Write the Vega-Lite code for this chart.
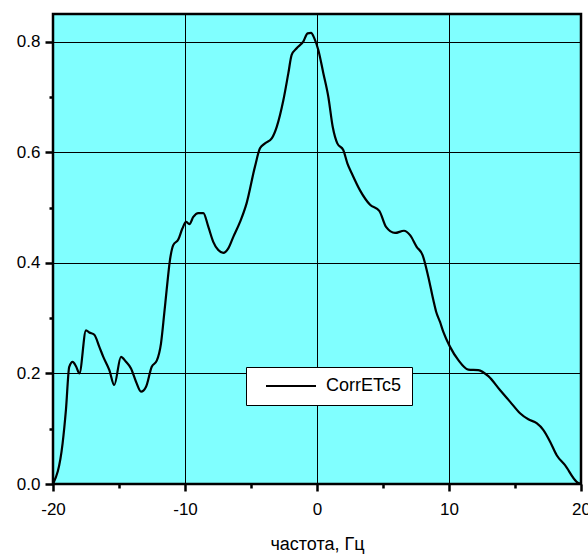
{
  "$schema": "https://vega.github.io/schema/vega-lite/v6.json",
  "width": 528,
  "height": 470,
  "autosize": {"type": "none"},
  "padding": {"left": 53, "top": 14, "right": 7, "bottom": 70},
  "background": "white",
  "config": {
    "view": {"fill": "#80FFFF", "stroke": "black", "strokeWidth": 2.5},
    "font": "Liberation Sans",
    "axis": {
      "domain": false,
      "ticks": true,
      "labelFont": "Liberation Sans",
      "labelFontSize": 17,
      "labelColor": "black",
      "titleFont": "Liberation Sans",
      "titleFontSize": 18,
      "titleFontWeight": "normal",
      "titleColor": "black",
      "tickColor": "black",
      "tickWidth": 2.5,
      "gridColor": "black",
      "gridWidth": 1
    },
    "legend": {
      "orient": "none",
      "legendX": 193,
      "legendY": 353,
      "fillColor": "white",
      "strokeColor": "black",
      "padding": 10,
      "labelFont": "Liberation Sans",
      "labelFontSize": 18,
      "labelColor": "black"
    }
  },
  "data": {
    "values": [
      {"f": -20, "v": 0.0, "s": "CorrETc5"},
      {"f": -19.27, "v": 0.074, "s": "CorrETc5"},
      {"f": -19.02, "v": 0.134, "s": "CorrETc5"},
      {"f": -18.77, "v": 0.212, "s": "CorrETc5"},
      {"f": -18.51, "v": 0.221, "s": "CorrETc5"},
      {"f": -18.26, "v": 0.213, "s": "CorrETc5"},
      {"f": -18.0, "v": 0.2, "s": "CorrETc5"},
      {"f": -17.5, "v": 0.278, "s": "CorrETc5"},
      {"f": -17.25, "v": 0.274, "s": "CorrETc5"},
      {"f": -16.87, "v": 0.27, "s": "CorrETc5"},
      {"f": -16.49, "v": 0.248, "s": "CorrETc5"},
      {"f": -16.19, "v": 0.23, "s": "CorrETc5"},
      {"f": -15.73, "v": 0.206, "s": "CorrETc5"},
      {"f": -15.36, "v": 0.179, "s": "CorrETc5"},
      {"f": -14.85, "v": 0.23, "s": "CorrETc5"},
      {"f": -14.47, "v": 0.221, "s": "CorrETc5"},
      {"f": -14.09, "v": 0.209, "s": "CorrETc5"},
      {"f": -13.71, "v": 0.185, "s": "CorrETc5"},
      {"f": -13.33, "v": 0.167, "s": "CorrETc5"},
      {"f": -12.95, "v": 0.176, "s": "CorrETc5"},
      {"f": -12.52, "v": 0.212, "s": "CorrETc5"},
      {"f": -12.14, "v": 0.223, "s": "CorrETc5"},
      {"f": -11.82, "v": 0.254, "s": "CorrETc5"},
      {"f": -11.57, "v": 0.309, "s": "CorrETc5"},
      {"f": -11.39, "v": 0.351, "s": "CorrETc5"},
      {"f": -11.14, "v": 0.405, "s": "CorrETc5"},
      {"f": -10.89, "v": 0.432, "s": "CorrETc5"},
      {"f": -10.51, "v": 0.442, "s": "CorrETc5"},
      {"f": -10.2, "v": 0.462, "s": "CorrETc5"},
      {"f": -9.92, "v": 0.474, "s": "CorrETc5"},
      {"f": -9.67, "v": 0.47, "s": "CorrETc5"},
      {"f": -9.37, "v": 0.483, "s": "CorrETc5"},
      {"f": -8.99, "v": 0.49, "s": "CorrETc5"},
      {"f": -8.61, "v": 0.49, "s": "CorrETc5"},
      {"f": -8.23, "v": 0.465, "s": "CorrETc5"},
      {"f": -7.86, "v": 0.438, "s": "CorrETc5"},
      {"f": -7.48, "v": 0.423, "s": "CorrETc5"},
      {"f": -7.1, "v": 0.418, "s": "CorrETc5"},
      {"f": -6.72, "v": 0.426, "s": "CorrETc5"},
      {"f": -6.34, "v": 0.447, "s": "CorrETc5"},
      {"f": -5.83, "v": 0.474, "s": "CorrETc5"},
      {"f": -5.33, "v": 0.508, "s": "CorrETc5"},
      {"f": -4.7, "v": 0.574, "s": "CorrETc5"},
      {"f": -4.32, "v": 0.607, "s": "CorrETc5"},
      {"f": -3.94, "v": 0.616, "s": "CorrETc5"},
      {"f": -3.43, "v": 0.625, "s": "CorrETc5"},
      {"f": -3.05, "v": 0.646, "s": "CorrETc5"},
      {"f": -2.55, "v": 0.694, "s": "CorrETc5"},
      {"f": -2.17, "v": 0.743, "s": "CorrETc5"},
      {"f": -1.92, "v": 0.776, "s": "CorrETc5"},
      {"f": -1.54, "v": 0.788, "s": "CorrETc5"},
      {"f": -1.04, "v": 0.8, "s": "CorrETc5"},
      {"f": -0.71, "v": 0.815, "s": "CorrETc5"},
      {"f": -0.45, "v": 0.816, "s": "CorrETc5"},
      {"f": -0.2, "v": 0.806, "s": "CorrETc5"},
      {"f": 0.1, "v": 0.785, "s": "CorrETc5"},
      {"f": 0.48, "v": 0.743, "s": "CorrETc5"},
      {"f": 0.86, "v": 0.7, "s": "CorrETc5"},
      {"f": 1.19, "v": 0.646, "s": "CorrETc5"},
      {"f": 1.54, "v": 0.616, "s": "CorrETc5"},
      {"f": 1.99, "v": 0.604, "s": "CorrETc5"},
      {"f": 2.3, "v": 0.58, "s": "CorrETc5"},
      {"f": 2.63, "v": 0.562, "s": "CorrETc5"},
      {"f": 3.26, "v": 0.531, "s": "CorrETc5"},
      {"f": 4.02, "v": 0.505, "s": "CorrETc5"},
      {"f": 4.72, "v": 0.494, "s": "CorrETc5"},
      {"f": 5.23, "v": 0.465, "s": "CorrETc5"},
      {"f": 5.91, "v": 0.454, "s": "CorrETc5"},
      {"f": 6.59, "v": 0.458, "s": "CorrETc5"},
      {"f": 7.05, "v": 0.45, "s": "CorrETc5"},
      {"f": 7.55, "v": 0.429, "s": "CorrETc5"},
      {"f": 8.0, "v": 0.414, "s": "CorrETc5"},
      {"f": 8.43, "v": 0.375, "s": "CorrETc5"},
      {"f": 8.81, "v": 0.333, "s": "CorrETc5"},
      {"f": 9.02, "v": 0.312, "s": "CorrETc5"},
      {"f": 9.32, "v": 0.293, "s": "CorrETc5"},
      {"f": 9.57, "v": 0.275, "s": "CorrETc5"},
      {"f": 10.08, "v": 0.248, "s": "CorrETc5"},
      {"f": 10.71, "v": 0.224, "s": "CorrETc5"},
      {"f": 11.46, "v": 0.207, "s": "CorrETc5"},
      {"f": 12.22, "v": 0.206, "s": "CorrETc5"},
      {"f": 12.98, "v": 0.195, "s": "CorrETc5"},
      {"f": 13.86, "v": 0.17, "s": "CorrETc5"},
      {"f": 14.62, "v": 0.149, "s": "CorrETc5"},
      {"f": 15.38, "v": 0.128, "s": "CorrETc5"},
      {"f": 16.01, "v": 0.117, "s": "CorrETc5"},
      {"f": 16.64, "v": 0.11, "s": "CorrETc5"},
      {"f": 17.14, "v": 0.098, "s": "CorrETc5"},
      {"f": 17.65, "v": 0.077, "s": "CorrETc5"},
      {"f": 18.16, "v": 0.052, "s": "CorrETc5"},
      {"f": 18.79, "v": 0.034, "s": "CorrETc5"},
      {"f": 19.67, "v": 0.004, "s": "CorrETc5"},
      {"f": 20, "v": 0.0, "s": "CorrETc5"}
    ]
  },
  "mark": {"type": "line", "interpolate": "monotone", "strokeWidth": 2.2, "clip": true},
  "encoding": {
    "x": {
      "field": "f",
      "type": "quantitative",
      "scale": {"domain": [-20, 20], "nice": false, "zero": false},
      "axis": {
        "title": "частота, Гц",
        "values": [-20, -15, -10, -5, 0, 5, 10, 15, 20],
        "labelExpr": "datum.value % 10 === 0 ? '' + datum.value : ''",
        "labelPadding": 10,
        "labelFlush": false,
        "labelOverlap": false,
        "titlePadding": 18,
        "ticks": true,
        "tickSize": 7,
        "tickColor": "black",
        "tickWidth": 2.5,
        "tickDash": {"condition": {"test": "datum.value % 10 === 0", "value": [7, 0]}, "value": [4, 20]},
        "gridOpacity": {"condition": {"test": "datum.value % 10 === 0", "value": 1}, "value": 0}
      }
    },
    "y": {
      "field": "v",
      "type": "quantitative",
      "scale": {"domain": [0, 0.85], "nice": false},
      "axis": {
        "title": null,
        "values": [0, 0.1, 0.2, 0.3, 0.4, 0.5, 0.6, 0.7, 0.8],
        "format": ".1f",
        "labelExpr": "round(datum.value * 10) % 2 === 0 ? datum.label : ''",
        "labelPadding": 5,
        "labelOverlap": false,
        "ticks": true,
        "tickSize": 8,
        "tickColor": "black",
        "tickWidth": 2.5,
        "tickDash": {"condition": {"test": "round(datum.value * 10) % 2 === 0", "value": [8, 0]}, "value": [4, 20]},
        "gridOpacity": {"condition": {"test": "round(datum.value * 10) % 2 === 0", "value": 1}, "value": 0}
      }
    },
    "color": {
      "field": "s",
      "type": "nominal",
      "scale": {"range": ["black"]},
      "legend": {
        "title": null,
        "symbolType": "M-5,0H5",
        "symbolSize": 100,
        "symbolStrokeWidth": 2,
        "symbolOffset": 26,
        "labelOffset": 26
      }
    }
  }
}
